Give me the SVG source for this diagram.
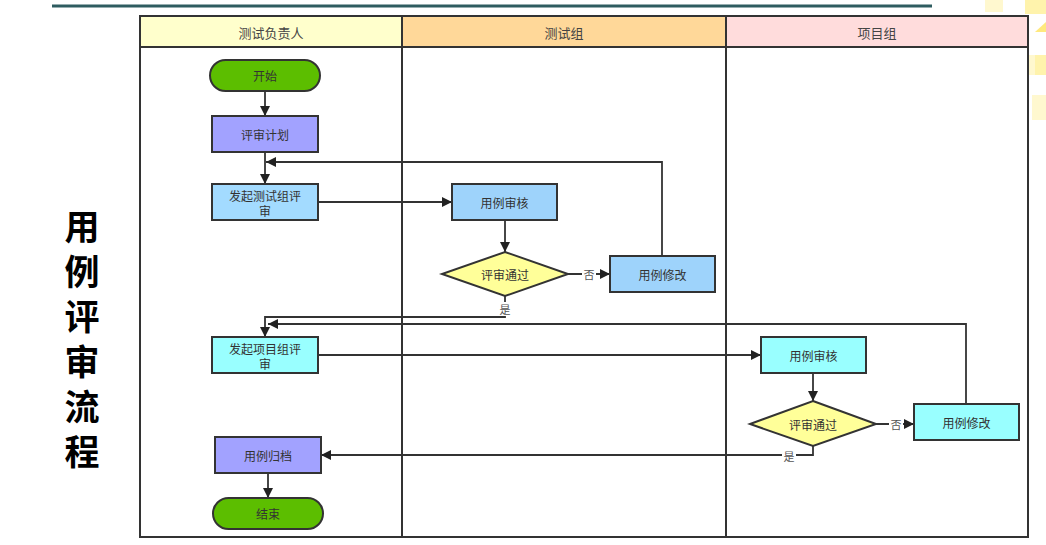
<svg xmlns="http://www.w3.org/2000/svg" width="1046" height="545" viewBox="0 0 1046 545">
<defs>
<marker id="arr" viewBox="0 0 10 10" refX="10" refY="5" markerWidth="10" markerHeight="10" markerUnits="userSpaceOnUse" orient="auto">
<path d="M0,0 L10,5 L0,10 Z" fill="#222"/>
</marker>
</defs>
<style>
text{font-family:"Noto Sans CJK SC","Noto Sans",sans-serif;}
.lane{fill:#fff;stroke:#333;stroke-width:2}
.hdr{stroke:#333;stroke-width:2}
.ht{font-size:13px;fill:#444;text-anchor:middle;dominant-baseline:central}
.n{stroke:#333;stroke-width:2}
.t{font-size:12px;fill:#333;text-anchor:middle;dominant-baseline:central}
.c{fill:none;stroke:#333;stroke-width:1.8}
.lbl{font-size:11px;fill:#555;text-anchor:middle;dominant-baseline:central}
.title{font-size:35px;font-weight:bold;fill:#000;writing-mode:vertical-rl;letter-spacing:10px}
</style>
<rect width="1046" height="545" fill="#fff"/>
<!-- decoration -->
<g id="decor" opacity="0.5">
<rect x="985" y="0" width="18" height="12" fill="#fff3a0"/>
<rect x="1025" y="0" width="21" height="14" fill="#ffe95c"/>
<rect x="1015" y="55" width="20" height="20" fill="#fff3a0"/>
<rect x="1035" y="55" width="11" height="20" fill="#ffe95c"/>
<rect x="1010" y="80" width="16" height="20" fill="#fffac8"/>
<rect x="1032" y="95" width="14" height="25" fill="#fff3a0"/>
<path d="M1035,32 L1046,22 L1046,32 Z" fill="#ffd400"/>
</g>
<line x1="52" y1="6" x2="932" y2="6" stroke="#2e5c60" stroke-width="3"/>
<!-- title -->
<g id="title">
<text class="title" x="82" y="209">用例评审流程</text>
</g>
<!-- lanes -->
<g id="pool">
<rect class="lane" x="140" y="16" width="888" height="521"/>
<rect class="hdr" x="140" y="16" width="262" height="31" fill="#ffffcc"/>
<rect class="hdr" x="402" y="16" width="324" height="31" fill="#ffd899"/>
<rect class="hdr" x="726" y="16" width="302" height="31" fill="#ffdcdc"/>
<line x1="402" y1="47" x2="402" y2="537" stroke="#333" stroke-width="2"/>
<line x1="726" y1="47" x2="726" y2="537" stroke="#333" stroke-width="2"/>
<text class="ht" x="271" y="32">测试负责人</text>
<text class="ht" x="564" y="32">测试组</text>
<text class="ht" x="877" y="32">项目组</text>
</g>
<!-- connectors -->
<g id="connectors">
<path class="c" d="M265,91 V116" marker-end="url(#arr)"/>
<path class="c" d="M265,152 V184" marker-end="url(#arr)"/>
<path class="c" d="M662,256 V162 H266" marker-end="url(#arr)"/>
<path class="c" d="M318,202 H452" marker-end="url(#arr)"/>
<path class="c" d="M505,220 V252" marker-end="url(#arr)"/>
<path class="c" d="M568,274 H610" marker-end="url(#arr)"/>
<path class="c" d="M505,296 V317 H265 V337" marker-end="url(#arr)"/>
<path class="c" d="M966,404 V324 H268" marker-end="url(#arr)"/>
<path class="c" d="M318,355 H761" marker-end="url(#arr)"/>
<path class="c" d="M813,373 V401" marker-end="url(#arr)"/>
<path class="c" d="M876,424 H914" marker-end="url(#arr)"/>
<path class="c" d="M813,446 V455 H321" marker-end="url(#arr)"/>
<path class="c" d="M268,473 V498" marker-end="url(#arr)"/>
<rect x="582" y="267" width="14" height="14" fill="#fff"/>
<text class="lbl" x="589" y="274">否</text>
<rect x="498" y="302" width="14" height="14" fill="#fff"/>
<text class="lbl" x="505" y="309">是</text>
<rect x="889" y="417" width="14" height="14" fill="#fff"/>
<text class="lbl" x="896" y="424">否</text>
<rect x="782" y="449" width="14" height="14" fill="#fff"/>
<text class="lbl" x="789" y="456">是</text>
</g>
<!-- nodes -->
<g id="start"><rect class="n" x="210" y="60" width="110" height="31" rx="15.5" fill="#5cbe00"/><text class="t" x="265" y="75.5">开始</text></g>
<g id="plan"><rect class="n" x="212" y="116" width="106" height="36" fill="#a2a2ff"/><text class="t" x="265" y="134">评审计划</text></g>
<g id="launchTest"><rect class="n" x="212" y="184" width="106" height="36" fill="#a3dbff"/><text class="t" x="265" y="195">发起测试组评</text><text class="t" x="265" y="210">审</text></g>
<g id="review1"><rect class="n" x="452" y="184" width="105" height="36" fill="#9ed3fb"/><text class="t" x="504.5" y="202">用例审核</text></g>
<g id="pass1"><path class="n" d="M505,252 L568,274 L505,296 L442,274 Z" fill="#ffff99"/><text class="t" x="505" y="274">评审通过</text></g>
<g id="modify1"><rect class="n" x="610" y="256" width="105" height="36" fill="#9ed3fb"/><text class="t" x="662.5" y="274">用例修改</text></g>
<g id="launchProj"><rect class="n" x="212" y="337" width="106" height="36" fill="#99ffff"/><text class="t" x="265" y="348">发起项目组评</text><text class="t" x="265" y="363">审</text></g>
<g id="review2"><rect class="n" x="761" y="337" width="105" height="36" fill="#99ffff"/><text class="t" x="813.5" y="355">用例审核</text></g>
<g id="pass2"><path class="n" d="M813,401 L876,424 L813,446 L750,424 Z" fill="#ffff99"/><text class="t" x="813" y="424">评审通过</text></g>
<g id="modify2"><rect class="n" x="914" y="404" width="105" height="36" fill="#99ffff"/><text class="t" x="966.5" y="422">用例修改</text></g>
<g id="archive"><rect class="n" x="215" y="437" width="106" height="36" fill="#a2a2ff"/><text class="t" x="268" y="455">用例归档</text></g>
<g id="end"><rect class="n" x="213" y="498" width="110" height="31" rx="15.5" fill="#5cbe00"/><text class="t" x="268" y="513.5">结束</text></g>
</svg>
